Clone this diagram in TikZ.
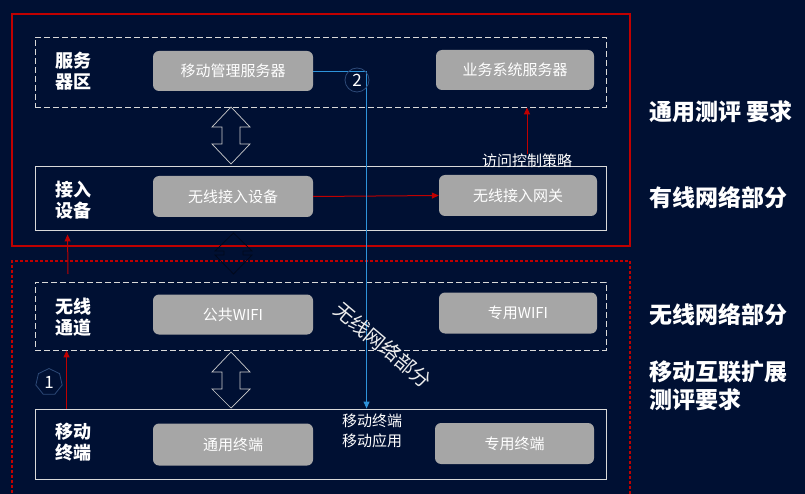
\documentclass[tikz,border=0pt]{standalone}
\usepackage{fontspec}
\setmainfont{Noto Sans CJK SC}
\usetikzlibrary{arrows.meta,shapes.geometric,calc}
\definecolor{bg}{HTML}{001033}
\definecolor{redl}{HTML}{C00000}
\definecolor{boxgray}{HTML}{A6A6A6}
\definecolor{bluel}{HTML}{2E93DA}
\definecolor{zonel}{HTML}{D9D9D9}
\definecolor{badge}{HTML}{2E4A78}
\begin{document}
\begin{tikzpicture}[x=1pt,y=-1pt,
 zone/.style={draw=zonel, line width=0.9pt, minimum width=571pt, inner sep=0pt},
 dzone/.style={zone, dash pattern=on 6pt off 3pt},
 gbox/.style={fill=boxgray, rounded corners=6pt, text=white, font=\fontsize{15}{17}\selectfont, inner sep=0pt},
 lab/.style={text=white, font=\bfseries\fontsize{18}{21}\selectfont, align=left},
 side/.style={text=white, font=\bfseries\fontsize{23}{28}\selectfont, align=left, anchor=west},
 redarr/.style={draw=redl, line width=1pt, -{Triangle[length=7pt,width=6pt]}},
 dbl/.style={draw=zonel!85!gray, line width=0.7pt},
 badgest/.style={draw=badge, line width=0.8pt, inner sep=0pt, text=white, font=\fontsize{17}{17}\selectfont},
]
\fill[bg] (0,0) rectangle (805,494);
\useasboundingbox (0,0) rectangle (805,494);
\clip (0,0) rectangle (805,494);

% outer frames
\node[draw=redl, line width=1.1pt, minimum width=618pt, minimum height=232pt, inner sep=0] (wired) at (321,130) {};
\node[draw=redl, line width=1.1pt, dash pattern=on 3pt off 2pt, minimum width=618pt, minimum height=260pt, inner sep=0] (mob) at (321,391) {};

% zones
\node[dzone, minimum height=70pt] (serverzone) at (320.5,72) {};
\node[zone, minimum height=64pt] (access) at (320.5,198) {};
\node[dzone, minimum height=68pt] (wireless) at (320.5,316) {};
\node[zone, minimum height=70pt] (mobile) at (320.5,444) {};

% zone labels
\node[lab] (l1) at (73,71) {服务\\器区};
\node[lab] (l2) at (73,200) {接入\\设备};
\node[lab] (l3) at (73,317) {无线\\通道};
\node[lab] (l4) at (73,442) {移动\\终端};

% gray boxes
\node[gbox, minimum width=160pt, minimum height=40pt] (mgmt) at (233,71) {移动管理服务器};
\node[gbox, minimum width=158pt, minimum height=40pt] (biz) at (515,70) {业务系统服务器};
\node[gbox, minimum width=160pt, minimum height=41pt] (wad) at (233,196.5) {无线接入设备};
\node[gbox, minimum width=158pt, minimum height=41pt] (wag) at (518,195.5) {无线接入网关};
\node[gbox, minimum width=160pt, minimum height=40pt] (pub) at (233,314.5) {公共WIFI};
\node[gbox, minimum width=158pt, minimum height=41pt] (pri) at (518,313) {专用WIFI};
\node[gbox, minimum width=160pt, minimum height=42pt] (gen) at (233,444.5) {通用终端};
\node[gbox, minimum width=159pt, minimum height=41pt] (ded) at (514.5,443.5) {专用终端};

% side labels
\node[side] (s1) at (646,112) {通用测评 要求};
\node[side] (s2) at (646,198) {有线网络部分};
\node[side] (s3) at (646,315) {无线网络部分};
\node[side] (s4) at (646,386) {移动互联扩展\\测评要求};

% double arrows
\draw[dbl] (231,107) -- (250,127) -- (240,127) -- (240,144) -- (250,144) -- (231,164) -- (212,144) -- (222,144) -- (222,127) -- (212,127) -- cycle;
\draw[dbl] (231,352) -- (250,372) -- (240,372) -- (240,389) -- (250,389) -- (231,408) -- (212,389) -- (222,389) -- (222,372) -- (212,372) -- cycle;
\draw[draw=bg!55!black, line width=0.8pt] (233.5,233) -- (252,251) -- (243,251) -- (243,255) -- (252,255) -- (233.5,274) -- (215,255) -- (224,255) -- (224,251) -- (215,251) -- cycle;

% policy label and red arrows
\node[text=white, font=\fontsize{15}{17}\selectfont, inner sep=0pt] (policy) at (527,161) {访问控制策略};
\draw[redarr] (policy.north) -- (policy.north |- serverzone.south);
\draw[redarr] (wad.east) -- (wag.west);
\draw[redarr] ([xshift=32pt]mobile.north west) -- ([xshift=32pt]wireless.south west);
\coordinate (r2s) at (68,274);
\draw[redarr] (r2s) -- ([xshift=33pt,yshift=-4pt]access.south west);

% blue link
\draw[draw=bluel, line width=0.9pt, -{Triangle[length=7pt,width=6pt]}] (mgmt.east) -| ($(mobile.north west)+(332,0)$);

% badges
\node[badgest, circle, minimum size=24pt] (b2) at (357,80) {2};
\node[badgest, regular polygon, regular polygon sides=7, minimum size=27pt] (b1) at (49,382) {1};

% terminal text
\node[text=white, font=\fontsize{15}{20}\selectfont, align=center, inner sep=0pt] (mtext) at (372,431) {移动终端\\移动应用};

% diagonal text
\node[rotate=-40, text=white!85!gray, font=\fontsize{20}{20}\selectfont, inner sep=0pt] (diag) at (383,345) {无线网络部分};
\end{tikzpicture}
\end{document}
